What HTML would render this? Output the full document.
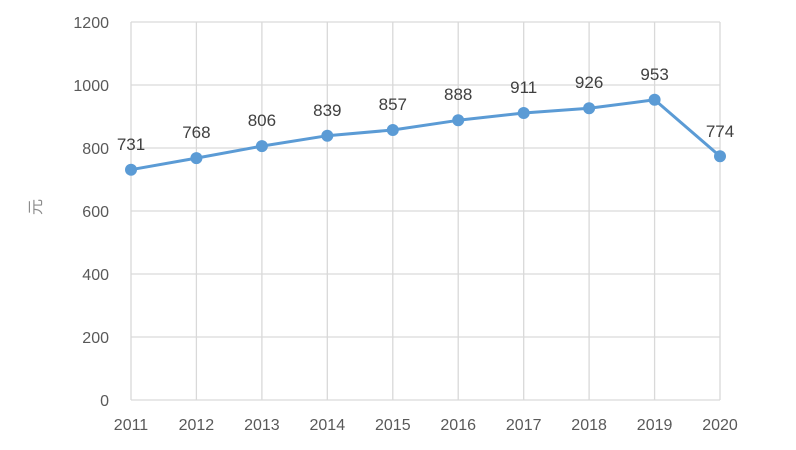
<!DOCTYPE html>
<html><head><meta charset="utf-8"><style>
html,body{margin:0;padding:0;background:#fff;}
svg{display:block;}
text{font-family:"Liberation Sans","Noto Sans CJK SC",sans-serif;}
</style></head><body>
<svg width="796" height="450" viewBox="0 0 796 450" xmlns="http://www.w3.org/2000/svg">
<rect width="796" height="450" fill="#fff"/>
<g stroke="#d9d9d9" stroke-width="1.3" fill="none">
<line x1="131" y1="22" x2="720" y2="22"/>
<line x1="131" y1="85" x2="720" y2="85"/>
<line x1="131" y1="148" x2="720" y2="148"/>
<line x1="131" y1="211" x2="720" y2="211"/>
<line x1="131" y1="274" x2="720" y2="274"/>
<line x1="131" y1="337" x2="720" y2="337"/>
<line x1="131" y1="400" x2="720" y2="400"/>
<line x1="131" y1="22" x2="131" y2="400"/>
<line x1="196.4" y1="22" x2="196.4" y2="400"/>
<line x1="261.9" y1="22" x2="261.9" y2="400"/>
<line x1="327.3" y1="22" x2="327.3" y2="400"/>
<line x1="392.8" y1="22" x2="392.8" y2="400"/>
<line x1="458.2" y1="22" x2="458.2" y2="400"/>
<line x1="523.7" y1="22" x2="523.7" y2="400"/>
<line x1="589.1" y1="22" x2="589.1" y2="400"/>
<line x1="654.6" y1="22" x2="654.6" y2="400"/>
<line x1="720" y1="22" x2="720" y2="400"/>
</g>
<g fill="#595959" font-size="16" text-anchor="end">
<text x="109" y="28">1200</text>
<text x="109" y="91">1000</text>
<text x="109" y="154">800</text>
<text x="109" y="217">600</text>
<text x="109" y="280">400</text>
<text x="109" y="343">200</text>
<text x="109" y="406">0</text>
</g>
<g fill="#595959" font-size="16" text-anchor="middle">
<text x="131" y="430">2011</text>
<text x="196.4" y="430">2012</text>
<text x="261.9" y="430">2013</text>
<text x="327.3" y="430">2014</text>
<text x="392.8" y="430">2015</text>
<text x="458.2" y="430">2016</text>
<text x="523.7" y="430">2017</text>
<text x="589.1" y="430">2018</text>
<text x="654.6" y="430">2019</text>
<text x="720" y="430">2020</text>
</g>
<text x="0" y="0" transform="translate(41,207) rotate(-90)" fill="#8c8c8c" font-size="16" text-anchor="middle">元</text>
<polyline fill="none" stroke="#5b9bd5" stroke-width="3" stroke-linejoin="round" points="131,169.7 196.4,158.1 261.9,146.1 327.3,135.7 392.8,130 458.2,120.3 523.7,113 589.1,108.3 654.6,99.8 720,156.2"/>
<g fill="#5b9bd5">
<circle cx="131" cy="169.7" r="6"/>
<circle cx="196.4" cy="158.1" r="6"/>
<circle cx="261.9" cy="146.1" r="6"/>
<circle cx="327.3" cy="135.7" r="6"/>
<circle cx="392.8" cy="130" r="6"/>
<circle cx="458.2" cy="120.3" r="6"/>
<circle cx="523.7" cy="113" r="6"/>
<circle cx="589.1" cy="108.3" r="6"/>
<circle cx="654.6" cy="99.8" r="6"/>
<circle cx="720" cy="156.2" r="6"/>
</g>
<g fill="#404040" font-size="17" text-anchor="middle">
<text x="131" y="150">731</text>
<text x="196.4" y="138">768</text>
<text x="261.9" y="126">806</text>
<text x="327.3" y="116">839</text>
<text x="392.8" y="110">857</text>
<text x="458.2" y="100">888</text>
<text x="523.7" y="93">911</text>
<text x="589.1" y="88">926</text>
<text x="654.6" y="80">953</text>
<text x="720" y="137">774</text>
</g>
</svg>
</body></html>
